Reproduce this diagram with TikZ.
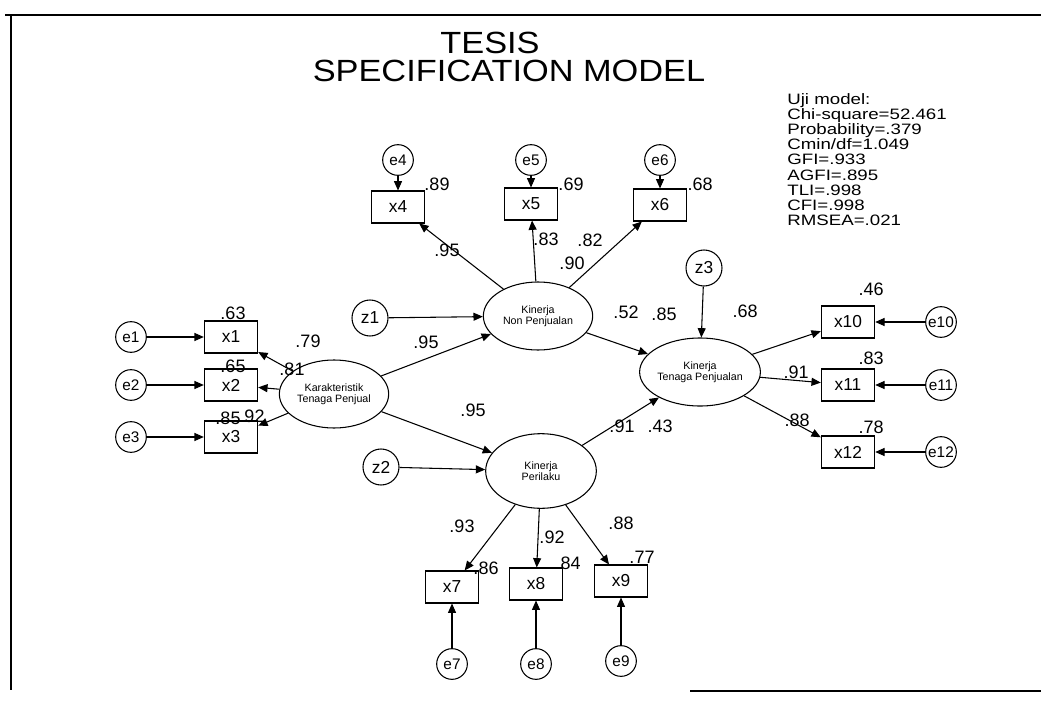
\documentclass[tikz,border=0pt]{standalone}
\usepackage{fontspec}
\setmainfont{Liberation Sans}
\usetikzlibrary{arrows.meta, shapes.geometric}
\newcommand{\fitfont}{\fontsize{11.3}{11.4}\selectfont\setlength{\lineskiplimit}{-20pt}}
\tikzset{
    obsbox/.style={
        rectangle,
        draw=black,
        line width=0.8pt,
        minimum width=40pt,
        minimum height=24pt,
        inner sep=0pt,
        font=\fontsize{13}{13}\selectfont
    },
    errnode/.style={
        circle,
        draw=black,
        line width=0.8pt,
        minimum size=23pt,
        inner sep=0pt,
        font=\fontsize{11.5}{11.5}\selectfont
    },
    distnode/.style={
        circle,
        draw=black,
        line width=0.8pt,
        minimum size=27pt,
        inner sep=0pt,
        font=\fontsize{13}{13}\selectfont
    },
    latent/.style={
        ellipse,
        draw=black,
        line width=0.8pt,
        minimum width=82pt,
        minimum height=51pt,
        inner sep=0pt,
        align=center,
        font=\fontsize{8}{8.5}\selectfont
    },
    coef/.style={
        inner sep=0pt,
        font=\fontsize{13.5}{13.5}\selectfont
    },
    path/.style={
        -{Triangle[length=7pt,width=6pt]},
        line width=0.8pt
    }
}

\begin{document}
\begin{tikzpicture}[x=0.75pt, y=-0.75pt]
    \useasboundingbox (0,0) rectangle (1041,702);
    \draw[line width=1.3pt] (5,15) -- (1041,15);
    \draw[line width=1pt] (11,15) -- (11,690);
    \draw[line width=1.3pt] (690,691) -- (1041,691);

    \node[xscale=1.12, inner sep=0pt, font=\fontsize{23}{23}\selectfont] (title1) at (490,43) {TESIS};
    \node[xscale=1.12, inner sep=0pt, font=\fontsize{23}{23}\selectfont] (title2) at (509,71) {SPECIFICATION MODEL};
    \node[anchor=north west, align=left, xscale=1.24, inner sep=0pt, font=\fitfont] (fit) at (787,93)
        {Uji model:\\Chi-square=52.461\\Probability=.379\\Cmin/df=1.049\\GFI=.933\\AGFI=.895\\TLI=.998\\CFI=.998\\RMSEA=.021};

    % latent variables
    \node[latent] (kar) at (334,394) {Karakteristik\\Tenaga Penjual};
    \node[latent] (knp) at (538,316) {Kinerja\\Non Penjualan};
    \node[latent, minimum width=83pt, minimum height=56pt] (kp) at (541,471) {Kinerja\\Perilaku};
    \node[latent] (ktp) at (700,372) {Kinerja\\Tenaga Penjualan};

    \node[distnode] (z1) at (370,318) {z1};
    \node[distnode] (z2) at (381,467) {z2};
    \node[distnode] (z3) at (704,268) {z3};

    % indicators
    \node[obsbox] (x1) at (231,337) {x1};
    \node[obsbox] (x2) at (231,385) {x2};
    \node[obsbox] (x3) at (231,437) {x3};
    \node[obsbox] (x4) at (398,207) {x4};
    \node[obsbox] (x5) at (531,204) {x5};
    \node[obsbox] (x6) at (660,205) {x6};
    \node[obsbox] (x7) at (452,587) {x7};
    \node[obsbox] (x8) at (536,584) {x8};
    \node[obsbox] (x9) at (621,581) {x9};
    \node[obsbox] (x10) at (848,322) {x10};
    \node[obsbox] (x11) at (848,385) {x11};
    \node[obsbox] (x12) at (848,452) {x12};

    \node[errnode] (e1) at (131,337) {e1};
    \node[errnode] (e2) at (131,385) {e2};
    \node[errnode] (e3) at (131,437) {e3};
    \node[errnode] (e4) at (398,160) {e4};
    \node[errnode] (e5) at (531,160) {e5};
    \node[errnode] (e6) at (660,160) {e6};
    \node[errnode] (e7) at (452,664) {e7};
    \node[errnode] (e8) at (536,664) {e8};
    \node[errnode] (e9) at (621,661) {e9};
    \node[errnode] (e10) at (941,322) {e10};
    \node[errnode] (e11) at (941,385) {e11};
    \node[errnode] (e12) at (941,452) {e12};

    \foreach \e/\x in {e1/x1, e2/x2, e3/x3, e4/x4, e5/x5, e6/x6, e7/x7, e8/x8, e9/x9, e10/x10, e11/x11, e12/x12}
        \draw[path] (\e) -- (\x);
    \foreach \x in {x1, x2, x3}
        \draw[path] (kar) -- (\x);
    \foreach \x in {x4, x5, x6}
        \draw[path] (knp) -- (\x);
    \foreach \x in {x7, x8, x9}
        \draw[path] (kp) -- (\x);
    \foreach \x in {x10, x11, x12}
        \draw[path] (ktp) -- (\x);
    \draw[path] (kar) -- (knp);
    \draw[path] (kar) -- (kp);
    \draw[path] (knp) -- (ktp);
    \draw[path] (kp) -- (ktp);
    \draw[path] (z1) -- (knp);
    \draw[path] (z2) -- (kp);
    \draw[path] (z3) -- (ktp);

    % estimates
    \node[coef] (r1) at (233,313) {.63};
    \node[coef] (r2) at (233,366) {.65};
    \node[coef] (r3) at (228,418) {.85};
    \node[coef] (l3) at (252,416) {.92};
    \node[coef] (l1) at (308,341) {.79};
    \node[coef] (l2) at (292,369) {.81};
    \node[coef] (g1) at (426,342) {.95};
    \node[coef] (g2) at (473,410) {.95};
    \node[coef] (r4) at (437,184) {.89};
    \node[coef] (r5) at (571,184) {.69};
    \node[coef] (r6) at (700,184) {.68};
    \node[coef] (l4) at (447,250) {.95};
    \node[coef] (l5) at (546,239) {.83};
    \node[coef] (l6) at (590,240) {.82};
    \node[coef] (rn) at (572,263) {.90};
    \node[coef] (b1) at (626,312) {.52};
    \node[coef] (rt) at (664,314) {.85};
    \node[coef] (l10) at (745,311) {.68};
    \node[coef] (l11) at (796,372) {.91};
    \node[coef] (l12) at (797,420) {.88};
    \node[coef] (r10) at (871,289) {.46};
    \node[coef] (r11) at (871,358) {.83};
    \node[coef] (r12) at (871,427) {.78};
    \node[coef] (rp) at (622,426) {.91};
    \node[coef] (b2) at (660,426) {.43};
    \node[coef] (l7) at (462,526) {.93};
    \node[coef] (l8) at (552,537) {.92};
    \node[coef] (l9) at (621,523) {.88};
    \node[coef] (r7) at (486,568) {.86};
    \node[coef] (r8) at (568,563) {.84};
    \node[coef] (r9) at (642,557) {.77};
\end{tikzpicture}
\end{document}
